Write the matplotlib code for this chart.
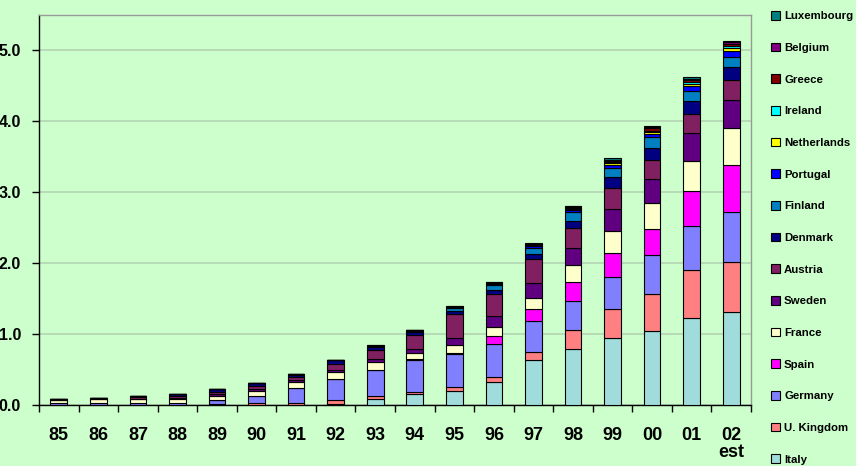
import numpy as np
import matplotlib
matplotlib.use("Agg")
import matplotlib.pyplot as plt

plt.rcParams['font.family'] = ['Liberation Sans', 'DejaVu Sans']
plt.rcParams['font.weight'] = 'bold'

years = ['85', '86', '87', '88', '89', '90', '91', '92', '93', '94',
         '95', '96', '97', '98', '99', '00', '01', '02\nest']

# bottom to top, as stacked in the chart
countries = ['Italy', 'U. Kingdom', 'Germany', 'Spain', 'France', 'Sweden',
             'Austria', 'Denmark', 'Finland', 'Portugal', 'Netherlands',
             'Ireland', 'Greece', 'Belgium', 'Luxembourg']

italy = [0, 0, 0, 0, 0, 0, 0.005, 0.01, 0.08, 0.155, 0.20, 0.33, 0.64, 0.79, 0.95, 1.04, 1.23, 1.31]
uk = [0, 0, 0, 0, 0.01, 0.03, 0.03, 0.06, 0.04, 0.025, 0.06, 0.06, 0.11, 0.27, 0.40, 0.53, 0.67, 0.70]
germany = [0.03, 0.03, 0.03, 0.03, 0.06, 0.10, 0.21, 0.29, 0.38, 0.46, 0.46, 0.47, 0.44, 0.41, 0.45, 0.54, 0.63, 0.71]
spain = [0, 0, 0, 0, 0, 0, 0, 0, 0, 0.01, 0.01, 0.11, 0.16, 0.26, 0.35, 0.37, 0.49, 0.66]
france = [0.04, 0.05, 0.05, 0.06, 0.06, 0.07, 0.08, 0.10, 0.10, 0.09, 0.12, 0.13, 0.16, 0.24, 0.31, 0.37, 0.42, 0.52]
sweden = [0.005, 0.005, 0.01, 0.01, 0.02, 0.02, 0.03, 0.03, 0.045, 0.05, 0.09, 0.15, 0.21, 0.24, 0.31, 0.34, 0.39, 0.40]
austria = [0.005, 0.01, 0.02, 0.03, 0.04, 0.05, 0.04, 0.09, 0.125, 0.20, 0.34, 0.32, 0.34, 0.29, 0.29, 0.27, 0.27, 0.28]
denmark = [0.01, 0.01, 0.02, 0.03, 0.03, 0.04, 0.03, 0.05, 0.05, 0.04, 0.05, 0.05, 0.07, 0.10, 0.16, 0.17, 0.19, 0.19]
finland = [0, 0, 0, 0, 0, 0, 0.01, 0.01, 0.01, 0.015, 0.04, 0.07, 0.09, 0.12, 0.12, 0.15, 0.14, 0.14]
portugal = [0, 0, 0, 0, 0, 0, 0, 0, 0.005, 0.01, 0.01, 0.02, 0.02, 0.03, 0.05, 0.04, 0.07, 0.08]
netherlands = [0, 0, 0, 0, 0, 0, 0, 0, 0, 0, 0.005, 0.005, 0.01, 0.02, 0.02, 0.03, 0.03, 0.05]
ireland = [0, 0, 0, 0, 0, 0, 0, 0, 0, 0, 0, 0, 0.01, 0.01, 0.02, 0.02, 0.03, 0.02]
greece = [0, 0, 0, 0, 0, 0, 0, 0, 0, 0, 0, 0.005, 0.005, 0.01, 0.01, 0.03, 0.02, 0.03]
belgium = [0, 0, 0, 0, 0, 0, 0, 0, 0.005, 0.005, 0.005, 0.01, 0.01, 0.01, 0.02, 0.02, 0.02, 0.03]
luxembourg = [0, 0, 0, 0, 0, 0, 0, 0, 0, 0, 0, 0, 0.005, 0.01, 0.02, 0.02, 0.02, 0.02]

series = [italy, uk, germany, spain, france, sweden, austria, denmark, finland,
          portugal, netherlands, ireland, greece, belgium, luxembourg]

colors = ['#A0DCDC', '#FF8080', '#8080FF', '#FF00FF', '#FFFFCC', '#600080',
          '#802060', '#000080', '#0080C0', '#0000FF', '#FFFF00', '#00FFFF',
          '#800000', '#800080', '#008080']

bg = '#CCFFCC'
fig = plt.figure(figsize=(8.56, 4.66), dpi=100, facecolor=bg)
ax = fig.add_axes([39 / 856, 61 / 466, 712 / 856, 390 / 466], facecolor=bg)

x = np.arange(len(years))
bottom = np.zeros(len(years))
handles = []
for name, vals, c in zip(countries, series, colors):
    b = ax.bar(x, vals, width=0.42, bottom=bottom, color=c, edgecolor='black',
               linewidth=0.8, label=name, zorder=3)
    handles.append(b)
    bottom += np.array(vals)

ax.set_xlim(-0.5, len(years) - 0.5)
ax.set_ylim(0, 5.5)
ax.set_yticks(np.arange(0, 5.1, 1.0))
ax.set_yticklabels(['%.1f' % v for v in np.arange(0, 5.1, 1.0)])
ax.yaxis.grid(True, color='#B4D8B4', linewidth=1.3, zorder=0)

ax.set_xticks(x)
ax.set_xticklabels(years, fontsize=13, fontweight='bold', linespacing=0.95)
ax.set_xticks(np.arange(-0.5, len(years), 1.0), minor=True)
ax.tick_params(axis='x', which='major', length=0, pad=16)
ax.tick_params(axis='x', which='minor', length=5, width=1, direction='out')
ax.tick_params(axis='y', length=5, width=1, pad=8, labelsize=11.5)
for lbl in ax.get_yticklabels():
    lbl.set_fontweight('bold')

for s in ['left', 'bottom']:
    ax.spines[s].set_color('black')
    ax.spines[s].set_linewidth(1)
for s in ['top', 'right']:
    ax.spines[s].set_color('#999999')
    ax.spines[s].set_linewidth(1)

leg = fig.legend(handles[::-1], countries[::-1], loc='upper left',
                 bbox_to_anchor=(771 / 856, 1 - 11 / 466), frameon=False,
                 prop={'size': 8.2, 'weight': 'bold'}, labelspacing=1.875,
                 handlelength=0.8, handleheight=0.8, handletextpad=0.35,
                 borderpad=0, borderaxespad=0)

fig.savefig('out.png', dpi=100, facecolor=bg)
